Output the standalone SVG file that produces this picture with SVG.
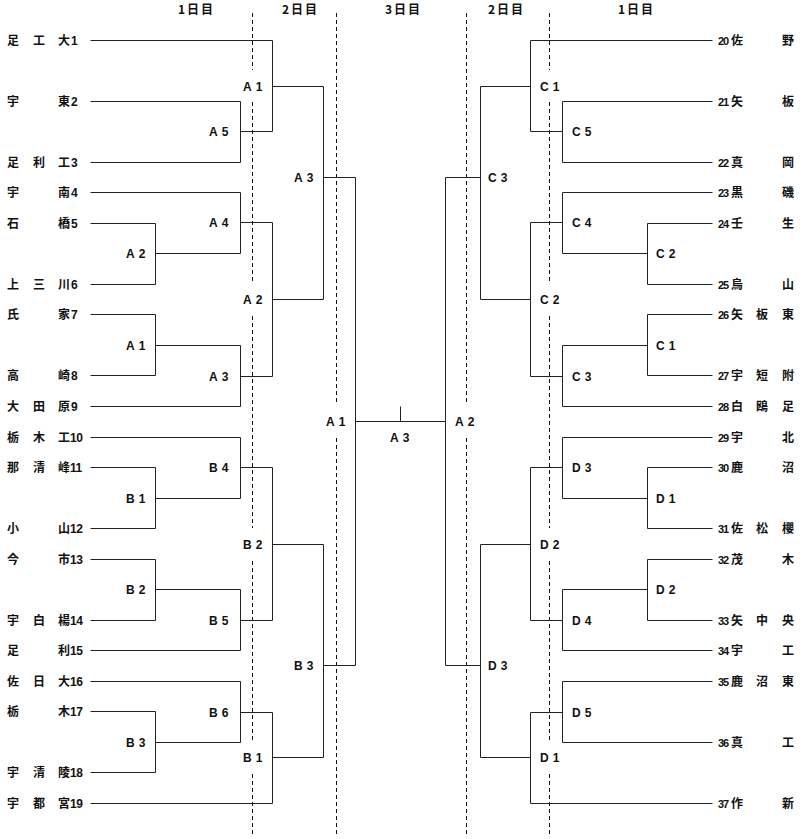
<svg xmlns="http://www.w3.org/2000/svg" width="811" height="839" viewBox="0 0 811 839">
<style>
.bg{fill:#fff}
.ln{fill:none;stroke:#222;stroke-width:1}
.dash{fill:none;stroke:#111;stroke-width:1;stroke-dasharray:4 3}
.jp{font-family:"Noto Sans CJK JP","Noto Sans CJK SC",sans-serif;font-size:12px;font-weight:bold;fill:#111}
.num{font-family:"Liberation Sans",Arial,sans-serif;font-size:12px;font-weight:bold;fill:#111}
.ln2{font-family:"Liberation Sans",Arial,sans-serif;font-size:12px;font-weight:bold;fill:#111;letter-spacing:-0.5px}
.rn{font-family:"Liberation Sans",Arial,sans-serif;font-size:11px;font-weight:bold;fill:#111;letter-spacing:-1px}
.lb{font-family:"Liberation Sans",Arial,sans-serif;font-size:12px;font-weight:bold;fill:#111;letter-spacing:4px}
.hd{font-family:"Noto Sans CJK JP",sans-serif;font-size:12px;font-weight:bold;fill:#111;letter-spacing:2px}
</style>
<rect class="bg" x="0" y="0" width="811" height="839"/>
<g id="headers">
<text class="hd" x="178" y="14">1日目</text>
<text class="hd" x="282" y="14">2日目</text>
<text class="hd" x="385" y="14">3日目</text>
<text class="hd" x="488" y="14">2日目</text>
<text class="hd" x="618" y="14">1日目</text>
</g>
<g id="day-lines" transform="translate(0.5,0)">
<path class="dash" d="M252 13V70M252 102V283M252 316V528M252 561V741M252 774V835"/>
<path class="dash" d="M336 13V405M336 438V835"/>
<path class="dash" d="M466 13V405M466 438V835"/>
<path class="dash" d="M549 13V70M549 102V283M549 316V528M549 561V741M549 774V835"/>
</g>
<g id="connectors" transform="translate(0.5,0.5)">
<path class="ln" d="M90 40H272M90 101H240M90 162H240M240 101V162M240 131H272M272 40V131M272 86H323
M90 192H240M90 223H155M90 284H155M155 223V284M155 253H240M240 192V253M240 222H272
M90 314H155M90 375H155M155 314V375M155 345H240M90 406H240M240 345V406M240 376H272
M272 222V376M272 299H323M323 86V299M323 177H355
M90 437H240M90 467H155M90 528H155M155 467V528M155 498H240M240 437V498M240 467H272
M90 559H155M90 620H155M155 559V620M155 589H240M90 650H240M240 589V650M240 620H272
M272 467V620M272 544H323
M90 681H240M90 711H155M90 772H155M155 711V772M155 742H240M240 681V742M240 712H272
M90 803H272M272 712V803M272 757H323M323 544V757M323 665H355
M355 177V665M355 421H445M400 406V421"/>
<path class="ln" d="M712 40H530M712 101H562M712 162H562M562 101V162M562 131H530M530 40V131M530 86H480
M712 192H562M712 223H647M712 284H647M647 223V284M647 253H562M562 192V253M562 222H530
M712 314H647M712 375H647M647 314V375M647 345H562M712 406H562M562 345V406M562 376H530
M530 222V376M530 299H480M480 86V299M480 177H445
M712 437H562M712 467H647M712 528H647M647 467V528M647 498H562M562 437V498M562 467H530
M712 559H647M712 620H647M647 559V620M647 589H562M712 650H562M562 589V650M562 620H530
M530 467V620M530 544H480
M712 681H562M712 742H562M562 681V742M562 712H530
M712 803H530M530 712V803M530 757H480M480 544V757M480 665H445M445 177V665"/>
</g>
<g id="left-teams">
<g id="t1"><text class="jp" y="45"><tspan x="7">足</tspan><tspan x="33">工</tspan><tspan x="58">大</tspan></text><text class="num" x="71" y="45">1</text></g>
<g id="t2"><text class="jp" y="106"><tspan x="7">宇</tspan><tspan x="58">東</tspan></text><text class="num" x="71" y="106">2</text></g>
<g id="t3"><text class="jp" y="167"><tspan x="7">足</tspan><tspan x="33">利</tspan><tspan x="58">工</tspan></text><text class="num" x="71" y="167">3</text></g>
<g id="t4"><text class="jp" y="197"><tspan x="7">宇</tspan><tspan x="58">南</tspan></text><text class="num" x="71" y="197">4</text></g>
<g id="t5"><text class="jp" y="228"><tspan x="7">石</tspan><tspan x="58">橋</tspan></text><text class="num" x="71" y="228">5</text></g>
<g id="t6"><text class="jp" y="289"><tspan x="7">上</tspan><tspan x="33">三</tspan><tspan x="58">川</tspan></text><text class="num" x="71" y="289">6</text></g>
<g id="t7"><text class="jp" y="319"><tspan x="7">氏</tspan><tspan x="58">家</tspan></text><text class="num" x="71" y="319">7</text></g>
<g id="t8"><text class="jp" y="380"><tspan x="7">高</tspan><tspan x="58">崎</tspan></text><text class="num" x="71" y="380">8</text></g>
<g id="t9"><text class="jp" y="411"><tspan x="7">大</tspan><tspan x="33">田</tspan><tspan x="58">原</tspan></text><text class="num" x="71" y="411">9</text></g>
<g id="t10"><text class="jp" y="442"><tspan x="7">栃</tspan><tspan x="33">木</tspan><tspan x="58">工</tspan></text><text class="ln2" x="70" y="442">10</text></g>
<g id="t11"><text class="jp" y="472"><tspan x="7">那</tspan><tspan x="33">清</tspan><tspan x="58">峰</tspan></text><text class="ln2" x="70" y="472">11</text></g>
<g id="t12"><text class="jp" y="533"><tspan x="7">小</tspan><tspan x="58">山</tspan></text><text class="ln2" x="70" y="533">12</text></g>
<g id="t13"><text class="jp" y="564"><tspan x="7">今</tspan><tspan x="58">市</tspan></text><text class="ln2" x="70" y="564">13</text></g>
<g id="t14"><text class="jp" y="625"><tspan x="7">宇</tspan><tspan x="33">白</tspan><tspan x="58">楊</tspan></text><text class="ln2" x="70" y="625">14</text></g>
<g id="t15"><text class="jp" y="655"><tspan x="7">足</tspan><tspan x="58">利</tspan></text><text class="ln2" x="70" y="655">15</text></g>
<g id="t16"><text class="jp" y="686"><tspan x="7">佐</tspan><tspan x="33">日</tspan><tspan x="58">大</tspan></text><text class="ln2" x="70" y="686">16</text></g>
<g id="t17"><text class="jp" y="716"><tspan x="7">栃</tspan><tspan x="58">木</tspan></text><text class="ln2" x="70" y="716">17</text></g>
<g id="t18"><text class="jp" y="777"><tspan x="7">宇</tspan><tspan x="33">清</tspan><tspan x="58">陵</tspan></text><text class="ln2" x="70" y="777">18</text></g>
<g id="t19"><text class="jp" y="808"><tspan x="7">宇</tspan><tspan x="33">都</tspan><tspan x="58">宮</tspan></text><text class="ln2" x="70" y="808">19</text></g>
</g>
<g id="right-teams">
<g id="t20"><text class="rn" x="718" y="45">20</text><text class="jp" y="45"><tspan x="731">佐</tspan><tspan x="782">野</tspan></text></g>
<g id="t21"><text class="rn" x="718" y="106">21</text><text class="jp" y="106"><tspan x="731">矢</tspan><tspan x="782">板</tspan></text></g>
<g id="t22"><text class="rn" x="718" y="167">22</text><text class="jp" y="167"><tspan x="731">真</tspan><tspan x="782">岡</tspan></text></g>
<g id="t23"><text class="rn" x="718" y="197">23</text><text class="jp" y="197"><tspan x="731">黒</tspan><tspan x="782">磯</tspan></text></g>
<g id="t24"><text class="rn" x="718" y="228">24</text><text class="jp" y="228"><tspan x="731">壬</tspan><tspan x="782">生</tspan></text></g>
<g id="t25"><text class="rn" x="718" y="289">25</text><text class="jp" y="289"><tspan x="731">烏</tspan><tspan x="782">山</tspan></text></g>
<g id="t26"><text class="rn" x="718" y="319">26</text><text class="jp" y="319"><tspan x="731">矢</tspan><tspan x="756">板</tspan><tspan x="782">東</tspan></text></g>
<g id="t27"><text class="rn" x="718" y="380">27</text><text class="jp" y="380"><tspan x="731">宇</tspan><tspan x="756">短</tspan><tspan x="782">附</tspan></text></g>
<g id="t28"><text class="rn" x="718" y="411">28</text><text class="jp" y="411"><tspan x="731">白</tspan><tspan x="756">鴎</tspan><tspan x="782">足</tspan></text></g>
<g id="t29"><text class="rn" x="718" y="442">29</text><text class="jp" y="442"><tspan x="731">宇</tspan><tspan x="782">北</tspan></text></g>
<g id="t30"><text class="rn" x="718" y="472">30</text><text class="jp" y="472"><tspan x="731">鹿</tspan><tspan x="782">沼</tspan></text></g>
<g id="t31"><text class="rn" x="718" y="533">31</text><text class="jp" y="533"><tspan x="731">佐</tspan><tspan x="756">松</tspan><tspan x="782">櫻</tspan></text></g>
<g id="t32"><text class="rn" x="718" y="564">32</text><text class="jp" y="564"><tspan x="731">茂</tspan><tspan x="782">木</tspan></text></g>
<g id="t33"><text class="rn" x="718" y="625">33</text><text class="jp" y="625"><tspan x="731">矢</tspan><tspan x="756">中</tspan><tspan x="782">央</tspan></text></g>
<g id="t34"><text class="rn" x="718" y="655">34</text><text class="jp" y="655"><tspan x="731">宇</tspan><tspan x="782">工</tspan></text></g>
<g id="t35"><text class="rn" x="718" y="686">35</text><text class="jp" y="686"><tspan x="731">鹿</tspan><tspan x="756">沼</tspan><tspan x="782">東</tspan></text></g>
<g id="t36"><text class="rn" x="718" y="747">36</text><text class="jp" y="747"><tspan x="731">真</tspan><tspan x="782">工</tspan></text></g>
<g id="t37"><text class="rn" x="718" y="808">37</text><text class="jp" y="808"><tspan x="731">作</tspan><tspan x="782">新</tspan></text></g>
</g>
<g id="left-matches">
<text id="mA5" class="lb" x="209" y="136">A5</text>
<text id="mA1r2" class="lb" x="243" y="91">A1</text>
<text id="mA2r1" class="lb" x="126" y="258">A2</text>
<text id="mA4" class="lb" x="209" y="227">A4</text>
<text id="mA1r1" class="lb" x="126" y="350">A1</text>
<text id="mA3r2" class="lb" x="209" y="381">A3</text>
<text id="mA2r2" class="lb" x="243" y="304">A2</text>
<text id="mA3r3" class="lb" x="294" y="182">A3</text>
<text id="mB1r1" class="lb" x="126" y="503">B1</text>
<text id="mB4" class="lb" x="209" y="472">B4</text>
<text id="mB2r1" class="lb" x="126" y="594">B2</text>
<text id="mB5" class="lb" x="209" y="625">B5</text>
<text id="mB2r2" class="lb" x="243" y="549">B2</text>
<text id="mB3r1" class="lb" x="126" y="747">B3</text>
<text id="mB6" class="lb" x="209" y="717">B6</text>
<text id="mB1r2" class="lb" x="243" y="762">B1</text>
<text id="mB3r3" class="lb" x="294" y="670">B3</text>
<text id="mA1f" class="lb" x="326" y="426">A1</text>
</g>
<g id="final">
<text id="mA3f" class="lb" x="390" y="442">A3</text>
</g>
<g id="right-matches">
<text id="mA2f" class="lb" x="455" y="426">A2</text>
<text id="mC1r2" class="lb" x="540" y="91">C1</text>
<text id="mC5" class="lb" x="572" y="136">C5</text>
<text id="mC3r3" class="lb" x="488" y="182">C3</text>
<text id="mC4" class="lb" x="572" y="227">C4</text>
<text id="mC2r1" class="lb" x="656" y="258">C2</text>
<text id="mC2r2" class="lb" x="540" y="304">C2</text>
<text id="mC1r1" class="lb" x="656" y="350">C1</text>
<text id="mC3r2" class="lb" x="572" y="381">C3</text>
<text id="mD3r2" class="lb" x="572" y="472">D3</text>
<text id="mD1r1" class="lb" x="656" y="503">D1</text>
<text id="mD2r2" class="lb" x="540" y="549">D2</text>
<text id="mD2r1" class="lb" x="656" y="594">D2</text>
<text id="mD4" class="lb" x="572" y="625">D4</text>
<text id="mD3r3" class="lb" x="488" y="670">D3</text>
<text id="mD5" class="lb" x="572" y="717">D5</text>
<text id="mD1r2" class="lb" x="540" y="762">D1</text>
</g>
</svg>
